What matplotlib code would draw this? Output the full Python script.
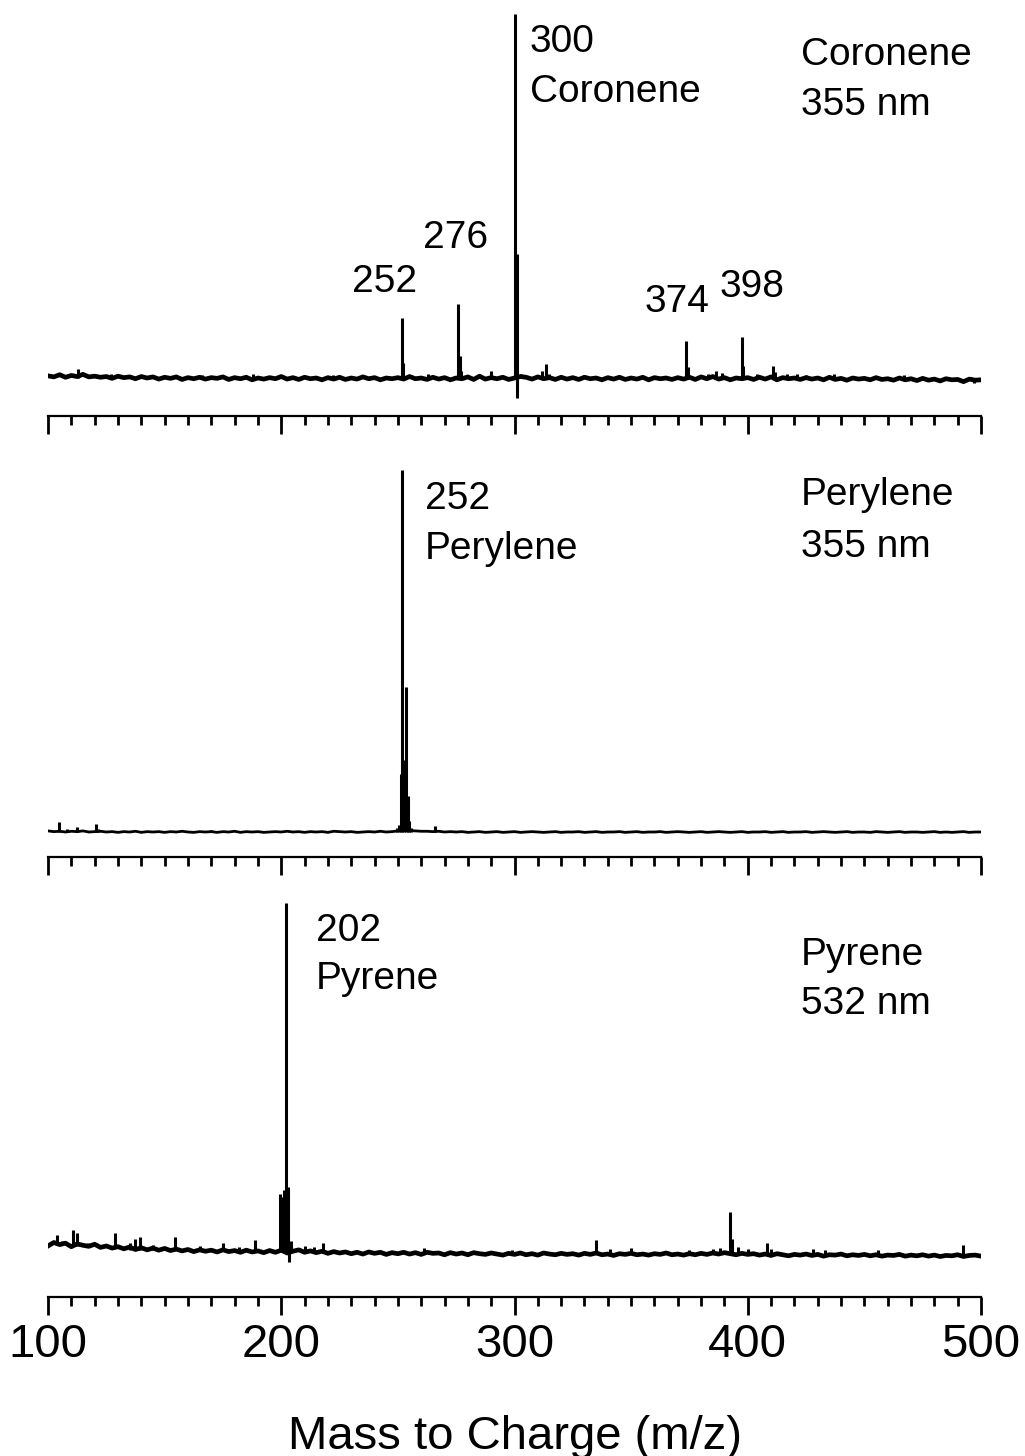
import numpy as np
import matplotlib
matplotlib.use("Agg")
import matplotlib.pyplot as plt
from matplotlib.ticker import MultipleLocator

plt.rcParams['font.family'] = ['Liberation Sans', 'DejaVu Sans']

# baseline samples every 2.5 m/z from 100 to 500 (relative intensity, tallest peak = 100)
grid_mz = np.arange(100, 500.01, 2.5)

coronene_noise = [
    0.6, 0.3, 0.9, 0.2, 0.7, 0.4, 1.0, 0.3, 0.5, 0.2,
    0.4, -0.1, 0.5, 0.1, 0.3, -0.2, 0.4, 0.0, 0.3, -0.3,
    0.2, -0.1, 0.3, -0.4, 0.1, -0.2, 0.2, -0.3, 0.1, -0.1,
    0.3, -0.4, 0.1, -0.2, 0.2, -0.5, 0.0, -0.3, 0.1, -0.2,
    0.4, -0.3, 0.1, -0.4, 0.2, -0.2, 0.0, -0.5, 0.1, -0.3,
    0.2, -0.4, 0.0, -0.3, 0.3, -0.2, 0.1, -0.5, 0.0, -0.2,
    0.1, -0.3, 0.4, -0.2, 0.0, -0.4, 0.2, -0.3, 0.1, -0.5,
    0.0, -0.2, 0.3, -0.4, 0.5, -0.3, 0.1, -0.2, 0.2, -0.4,
    0.0, 0.4, 0.2, -0.3, 0.3, -0.2, 0.1, -0.4, 0.2, -0.3,
    0.1, -0.4, 0.2, -0.2, 0.0, -0.5, 0.1, -0.3, 0.2, -0.4,
    0.0, -0.3, 0.2, -0.5, 0.1, -0.2, 0.0, -0.4, 0.1, -0.3,
    0.2, -0.4, 0.3, -0.2, 0.4, -0.3, 0.1, -0.5, 0.0, -0.2,
    0.1, -0.4, 0.2, -0.3, 0.3, -0.5, 0.1, -0.2, 0.0, -0.4,
    0.1, -0.3, 0.0, -0.5, 0.2, -0.4, -0.1, -0.6, 0.0, -0.3,
    -0.1, -0.5, 0.1, -0.4, -0.2, -0.6, 0.0, -0.5, -0.2, -0.7,
    -0.1, -0.6, -0.3, -0.8, -0.2, -0.5, -0.4, -1.0, -0.3, -0.6,
    -0.5]
coronene_peak_mz = [113, 127, 166, 188, 222, 251.6, 252.3, 263, 275.8, 276.5, 277.2,
                    289.8, 300.2, 300.9, 301.1, 303, 312.0, 313.4, 315, 330, 345,
                    373.5, 374.2, 383, 386.5, 389.0, 397.4, 398.1, 404, 410.8, 411.5,
                    417, 421, 425, 437, 467, 497]
coronene_peak_top = [2.6, 1.0, 0.8, 1.0, 0.9, 16.5, 4.0, 1.2, 20.3, 6.0, 2.0,
                     2.0, 100, 34, -5.5, 1.2, 2.0, 3.8, 1.0, 0.8, 0.9,
                     10.2, 3.0, 1.0, 2.0, 1.5, 11.3, 3.2, 1.0, 3.2, 1.6,
                     1.0, 1.2, 0.8, 1.0, 0.8, -1.5]

perylene_noise = [
    0.3, 0.1, 0.2, 0.0, 0.2, 0.1, 0.3, 0.0, 0.1, 0.2,
    0.0, 0.1, -0.1, 0.1, 0.0, 0.2, -0.1, 0.1, 0.0, 0.1,
    -0.1, 0.1, 0.0, 0.2, 0.0, -0.1, 0.1, 0.0, 0.1, -0.1,
    0.1, 0.0, 0.2, -0.1, 0.1, 0.0, 0.1, -0.1, 0.0, 0.1,
    0.0, 0.2, 0.0, 0.1, -0.1, 0.1, 0.0, 0.1, -0.1, 0.2,
    0.1, 0.0, 0.1, -0.1, 0.0, 0.1, 0.0, 0.2, 0.0, 0.1,
    0.3, 0.5, 0.4, 0.3, 0.2, 0.2, 0.1, 0.2, 0.0, 0.1,
    0.0, 0.1, -0.1, 0.0, 0.1, -0.1, 0.0, 0.1, -0.1, 0.0,
    0.1, -0.1, 0.0, 0.1, 0.0, -0.1, 0.0, 0.1, -0.1, 0.0,
    0.0, 0.1, -0.1, 0.0, 0.1, -0.1, 0.0, 0.0, 0.1, -0.1,
    0.0, 0.1, -0.1, 0.0, 0.0, 0.1, -0.1, 0.0, 0.1, 0.0,
    -0.1, 0.0, 0.1, -0.1, 0.0, 0.1, 0.0, -0.1, 0.0, 0.1,
    -0.1, 0.0, 0.0, 0.1, -0.1, 0.0, 0.1, -0.1, 0.0, 0.0,
    0.1, -0.1, 0.0, 0.1, 0.0, -0.1, 0.0, 0.1, -0.1, 0.0,
    0.0, -0.1, 0.1, 0.0, -0.1, 0.0, 0.1, -0.1, 0.0, 0.0,
    -0.1, 0.0, 0.1, -0.1, 0.0, -0.1, 0.0, 0.1, -0.1, 0.0,
    0.0]
perylene_peak_mz = [104.7, 108, 112.5, 120.6, 121.5, 135, 170, 200, 249.8, 250.6,
                    251.2, 251.8, 252.5, 253.3, 254.2, 254.8, 255.5, 266.0, 300]
perylene_peak_top = [2.8, 0.8, 1.5, 2.2, 0.8, 0.4, 0.5, 0.4, 1.0, 1.8,
                     16, 100, 20, 40, 10, 3, 1.2, 1.6, 0.3]

pyrene_noise = [
    2.0, 3.0, 2.4, 2.8, 1.8, 2.6, 2.2, 1.9, 2.5, 1.6,
    2.0, 1.4, 1.8, 1.2, 1.7, 1.0, 1.5, 0.9, 1.4, 0.8,
    1.3, 0.7, 1.1, 0.6, 1.0, 0.4, 0.9, 0.5, 0.8, 0.3,
    0.9, 0.4, 0.7, 0.2, 0.8, 0.3, 0.6, 0.1, 0.7, 0.2,
    0.8, 0.0, 0.5, 0.9, 0.2, 0.6, 0.1, 0.5, -0.1, 0.4,
    0.0, 0.3, -0.2, 0.2, -0.3, 0.3, -0.1, 0.2, -0.4, 0.1,
    -0.2, 0.2, -0.3, 0.1, -0.4, 0.2, -0.1, 0.0, -0.5, 0.1,
    -0.3, 0.0, -0.5, 0.1, -0.2, -0.4, 0.0, -0.3, -0.6, -0.1,
    -0.4, 0.0, -0.5, -0.2, -0.6, 0.0, -0.3, -0.5, -0.1, -0.4,
    -0.2, -0.6, -0.1, -0.4, 0.0, -0.5, -0.3, -0.7, -0.2, -0.4,
    -0.1, -0.5, -0.3, -0.6, -0.2, -0.4, 0.0, -0.5, -0.3, -0.6,
    -0.2, -0.5, -0.1, -0.4, 0.0, -0.3, 0.1, -0.2, -0.5, -0.1,
    -0.4, -0.2, -0.6, -0.3, -0.7, -0.2, -0.5, -0.8, -0.4, -0.6,
    -0.3, -0.7, -0.4, -0.9, -0.5, -0.6, -0.3, -0.8, -0.5, -0.7,
    -0.4, -0.8, -0.5, -0.9, -0.6, -0.7, -0.4, -0.9, -0.6, -0.8,
    -0.5, -0.9, -0.6, -1.0, -0.7, -0.8, -0.5, -1.0, -0.7, -0.6,
    -0.9]
pyrene_peak_mz = [103.7, 106, 110.9, 112.4, 117, 128.7, 135, 137.5, 139.4, 145,
                  154.4, 165, 175, 182, 188.7, 199.5, 200.5, 201.2, 202.0, 202.8,
                  203.3, 204.2, 210, 214, 218, 261, 299, 334.8, 341, 350,
                  375, 385, 388, 392.4, 393.2, 396, 400, 408.2, 410, 428,
                  433, 456, 492.4]
pyrene_peak_top = [5.1, 3.5, 6.6, 5.7, 3.0, 5.7, 2.8, 4.0, 4.6, 2.4,
                   4.6, 2.0, 2.9, 1.8, 3.7, 17, 16, 18, 100, 19,
                   -2.5, 3.5, 2.0, 1.6, 2.9, 1.5, 1.0, 3.7, 1.2, 1.4,
                   1.0, 1.2, 1.4, 11.7, 4.0, 1.8, 1.2, 2.9, 1.2, 1.2,
                   1.0, 0.8, 2.2]
pyrene_peak_base = [2.6, 2.3, 2.0, 2.0, 1.7, 1.4, 1.0, 1.0, 1.0, 0.9,
                    0.8, 0.6, 0.6, 0.4, 0.5, 0.6, 0.6, 0.6, 0.6, 0.4,
                    0.4, 0.4, 0.3, 0.2, 0.1, -0.1, -0.3, -0.3, -0.3, -0.3,
                    -0.4, -0.4, -0.4, -0.4, -0.4, -0.4, -0.4, -0.5, -0.5, -0.6,
                    -0.6, -0.7, -0.8]

major_ticks = [100, 200, 300, 400, 500]

fig = plt.figure(figsize=(10.25, 14.56), dpi=100)
W, H = 1025.0, 1456.0

# (spine y px, baseline y px, px per unit, ...)
panels = [
    (416, 378, 3.64, coronene_noise, coronene_peak_mz, coronene_peak_top, 0, 3.4),
    (857, 832, 3.62, perylene_noise, perylene_peak_mz, perylene_peak_top, 0, 2.0),
    (1297, 1253, 3.5, pyrene_noise, pyrene_peak_mz, pyrene_peak_top, pyrene_peak_base, 3.4),
]
axes = []
ax_h = 410
for spine, base, k, noise, pmz, ptop, pbase, lw in panels:
    ax = fig.add_axes([48 / W, 1 - spine / H, 933 / W, ax_h / H])
    lo = -(spine - base) / k
    ax.set_ylim(lo, lo + ax_h / k)
    ax.set_xlim(100, 500)
    ax.plot(grid_mz, noise, color='black', lw=lw, solid_joinstyle='round')
    ax.vlines(pmz, pbase, ptop, color='black', lw=2.2)
    for s in ['left', 'right', 'top']:
        ax.spines[s].set_visible(False)
    ax.spines['bottom'].set_linewidth(1.6)
    ax.set_yticks([])
    ax.set_xticks(major_ticks)
    ax.xaxis.set_minor_locator(MultipleLocator(10))
    ax.tick_params(axis='x', which='major', direction='out', length=13, width=2,
                   labelsize=34, pad=6)
    ax.tick_params(axis='x', which='minor', direction='out', length=6.5, width=2)
    axes.append(ax)

axes[0].tick_params(labelbottom=False)
axes[1].tick_params(labelbottom=False)
axes[2].set_xlabel('Mass to Charge (m/z)', fontsize=34, labelpad=34)

fs = 28
a1, a2, a3 = axes
a1.text(306.6, 89.6, '300', fontsize=fs)
a1.text(306.6, 75.8, 'Coronene', fontsize=fs)
a1.text(422.8, 86.0, 'Coronene', fontsize=fs)
a1.text(422.8, 72.3, '355 nm', fontsize=fs)
a1.text(260.8, 35.7, '276', fontsize=fs)
a1.text(230.3, 23.6, '252', fontsize=fs)
a1.text(355.9, 18.1, '374', fontsize=fs)
a1.text(388.1, 22.3, '398', fontsize=fs)

a2.text(261.6, 89.2, '252', fontsize=fs)
a2.text(261.6, 75.4, 'Perylene', fontsize=fs)
a2.text(422.8, 90.3, 'Perylene', fontsize=fs)
a2.text(422.8, 76.0, '355 nm', fontsize=fs)

a3.text(214.9, 89.1, '202', fontsize=fs)
a3.text(214.9, 75.4, 'Pyrene', fontsize=fs)
a3.text(422.8, 82.3, 'Pyrene', fontsize=fs)
a3.text(422.8, 68.3, '532 nm', fontsize=fs)

fig.savefig('out.png', dpi=100)
